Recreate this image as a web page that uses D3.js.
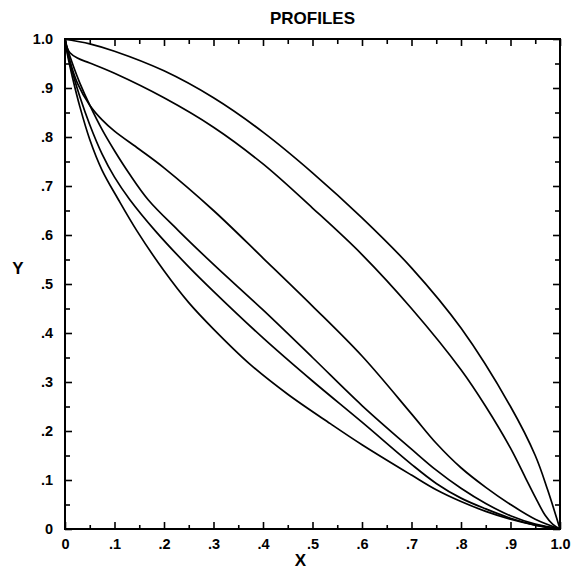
<!DOCTYPE html>
<html>
<head>
<meta charset="utf-8">
<script src="https://cdn.jsdelivr.net/npm/d3@7"></script>
<style>
  html, body { margin: 0; padding: 0; background: #fff; }
  svg { display: block; }
  text { font-family: "Liberation Sans", Arial, Helvetica, sans-serif; font-weight: bold; fill: #000; }
</style>
</head>
<body>
<svg id="chart" width="573" height="571"></svg>
<script>
// Profile curves, top to bottom, as [x, y] pairs
const profileA = [[0,1],[0.05,0.99],[0.1,0.975],[0.2,0.935],[0.3,0.88],[0.4,0.81],[0.5,0.727],[0.6,0.635],[0.7,0.533],[0.8,0.41],[0.9,0.25],[0.95,0.15],[0.975,0.08],[1,0]];
const profileB = [[0,1],[0.003,0.985],[0.01,0.972],[0.025,0.961],[0.05,0.951],[0.1,0.93],[0.2,0.88],[0.3,0.82],[0.4,0.745],[0.5,0.655],[0.6,0.56],[0.7,0.45],[0.8,0.325],[0.85,0.25],[0.9,0.165],[0.93,0.105],[0.95,0.065],[0.97,0.028],[0.985,0.01],[1,0]];
const profileC = [[0,1],[0.01,0.955],[0.025,0.91],[0.05,0.865],[0.075,0.835],[0.1,0.812],[0.15,0.775],[0.2,0.737],[0.3,0.65],[0.4,0.553],[0.5,0.455],[0.6,0.353],[0.7,0.235],[0.75,0.175],[0.8,0.125],[0.85,0.085],[0.9,0.05],[0.95,0.02],[1,0]];
const profileD = [[0,1],[0.005,0.98],[0.015,0.95],[0.03,0.91],[0.05,0.865],[0.075,0.815],[0.1,0.772],[0.13,0.725],[0.168,0.672],[0.229,0.609],[0.3,0.54],[0.4,0.447],[0.5,0.35],[0.6,0.252],[0.7,0.163],[0.75,0.12],[0.8,0.083],[0.85,0.052],[0.9,0.027],[0.95,0.01],[1,0]];
const profileE = [[0,1],[0.005,0.972],[0.015,0.932],[0.03,0.882],[0.05,0.825],[0.075,0.765],[0.1,0.718],[0.131,0.672],[0.182,0.609],[0.25,0.535],[0.3,0.485],[0.4,0.39],[0.5,0.302],[0.6,0.218],[0.7,0.132],[0.75,0.093],[0.8,0.063],[0.85,0.041],[0.9,0.022],[0.95,0.008],[1,0]];
const profileF = [[0,1],[0.005,0.968],[0.015,0.922],[0.03,0.862],[0.05,0.795],[0.075,0.732],[0.108,0.672],[0.145,0.609],[0.2,0.527],[0.25,0.462],[0.3,0.408],[0.374,0.336],[0.45,0.275],[0.536,0.215],[0.6,0.172],[0.7,0.11],[0.75,0.08],[0.8,0.056],[0.85,0.036],[0.9,0.02],[0.95,0.008],[1,0]];
const profiles = [profileA, profileB, profileC, profileD, profileE, profileF];

// Axis ticks and labels
const majorTicks = [0, 0.1, 0.2, 0.3, 0.4, 0.5, 0.6, 0.7, 0.8, 0.9, 1.0];
const minorTicks = [0.05, 0.15, 0.25, 0.35, 0.45, 0.55, 0.65, 0.75, 0.85, 0.95];
const tickLabels = ["0", ".1", ".2", ".3", ".4", ".5", ".6", ".7", ".8", ".9", "1.0"];
const titleText = "PROFILES";
const xTitle = "X";
const yTitle = "Y";

const margin = { left: 65, right: 13, top: 39, bottom: 42 };
const W = 573, H = 571;
const svg = d3.select("#chart");

const x = d3.scaleLinear().domain([0, 1]).range([margin.left, W - margin.right]);
const y = d3.scaleLinear().domain([0, 1]).range([H - margin.bottom, margin.top]);
const fmt = d => tickLabels[majorTicks.findIndex(t => Math.abs(t - d) < 1e-9)];

function styleAxis(g) {
  g.select(".domain").remove();
  g.selectAll(".tick line").attr("stroke", "#000").attr("stroke-width", 1.6);
  g.selectAll(".tick text").attr("font-size", 14.5).attr("font-family", null).attr("fill", "#000");
}

// Bottom
svg.append("g").attr("transform", `translate(0,${y(0)})`)
  .call(d3.axisBottom(x).tickValues(majorTicks).tickFormat(fmt).tickSizeInner(-7).tickSizeOuter(0).tickPadding(10))
  .call(styleAxis);
svg.append("g").attr("transform", `translate(0,${y(0)})`)
  .call(d3.axisBottom(x).tickValues(minorTicks).tickFormat("").tickSizeInner(-4).tickSizeOuter(0))
  .call(styleAxis);
// Top
svg.append("g").attr("transform", `translate(0,${y(1)})`)
  .call(d3.axisTop(x).tickValues(majorTicks).tickFormat("").tickSizeInner(-7).tickSizeOuter(0))
  .call(styleAxis);
svg.append("g").attr("transform", `translate(0,${y(1)})`)
  .call(d3.axisTop(x).tickValues(minorTicks).tickFormat("").tickSizeInner(-5).tickSizeOuter(0))
  .call(styleAxis);
// Left
svg.append("g").attr("transform", `translate(${x(0)},0)`)
  .call(d3.axisLeft(y).tickValues(majorTicks).tickFormat(fmt).tickSizeInner(-7).tickSizeOuter(0).tickPadding(12))
  .call(styleAxis);
svg.append("g").attr("transform", `translate(${x(0)},0)`)
  .call(d3.axisLeft(y).tickValues(minorTicks).tickFormat("").tickSizeInner(-5).tickSizeOuter(0))
  .call(styleAxis);
// Right
svg.append("g").attr("transform", `translate(${x(1)},0)`)
  .call(d3.axisRight(y).tickValues(majorTicks).tickFormat("").tickSizeInner(-7).tickSizeOuter(0))
  .call(styleAxis);
svg.append("g").attr("transform", `translate(${x(1)},0)`)
  .call(d3.axisRight(y).tickValues(minorTicks).tickFormat("").tickSizeInner(-5).tickSizeOuter(0))
  .call(styleAxis);

// Frame
svg.append("rect")
  .attr("x", x(0)).attr("y", y(1))
  .attr("width", x(1) - x(0)).attr("height", y(0) - y(1))
  .attr("fill", "none").attr("stroke", "#000").attr("stroke-width", 2);

// Profile curves
const line = d3.line().x(d => x(d[0])).y(d => y(d[1])).curve(d3.curveCatmullRom.alpha(0.5));
svg.append("g").selectAll("path").data(profiles).join("path")
  .attr("d", line)
  .attr("fill", "none").attr("stroke", "#000").attr("stroke-width", 1.7)
  .attr("stroke-linejoin", "round");

// Titles
svg.append("text").attr("x", (x(0) + x(1)) / 2).attr("y", 24)
  .attr("text-anchor", "middle").attr("font-size", 17).text(titleText);
svg.append("text").attr("x", (x(0) + x(1)) / 2 - 12).attr("y", 566)
  .attr("text-anchor", "middle").attr("font-size", 17).text(xTitle);
svg.append("text").attr("x", 18).attr("y", 274)
  .attr("text-anchor", "middle").attr("font-size", 17).text(yTitle);
</script>
</body>
</html>
